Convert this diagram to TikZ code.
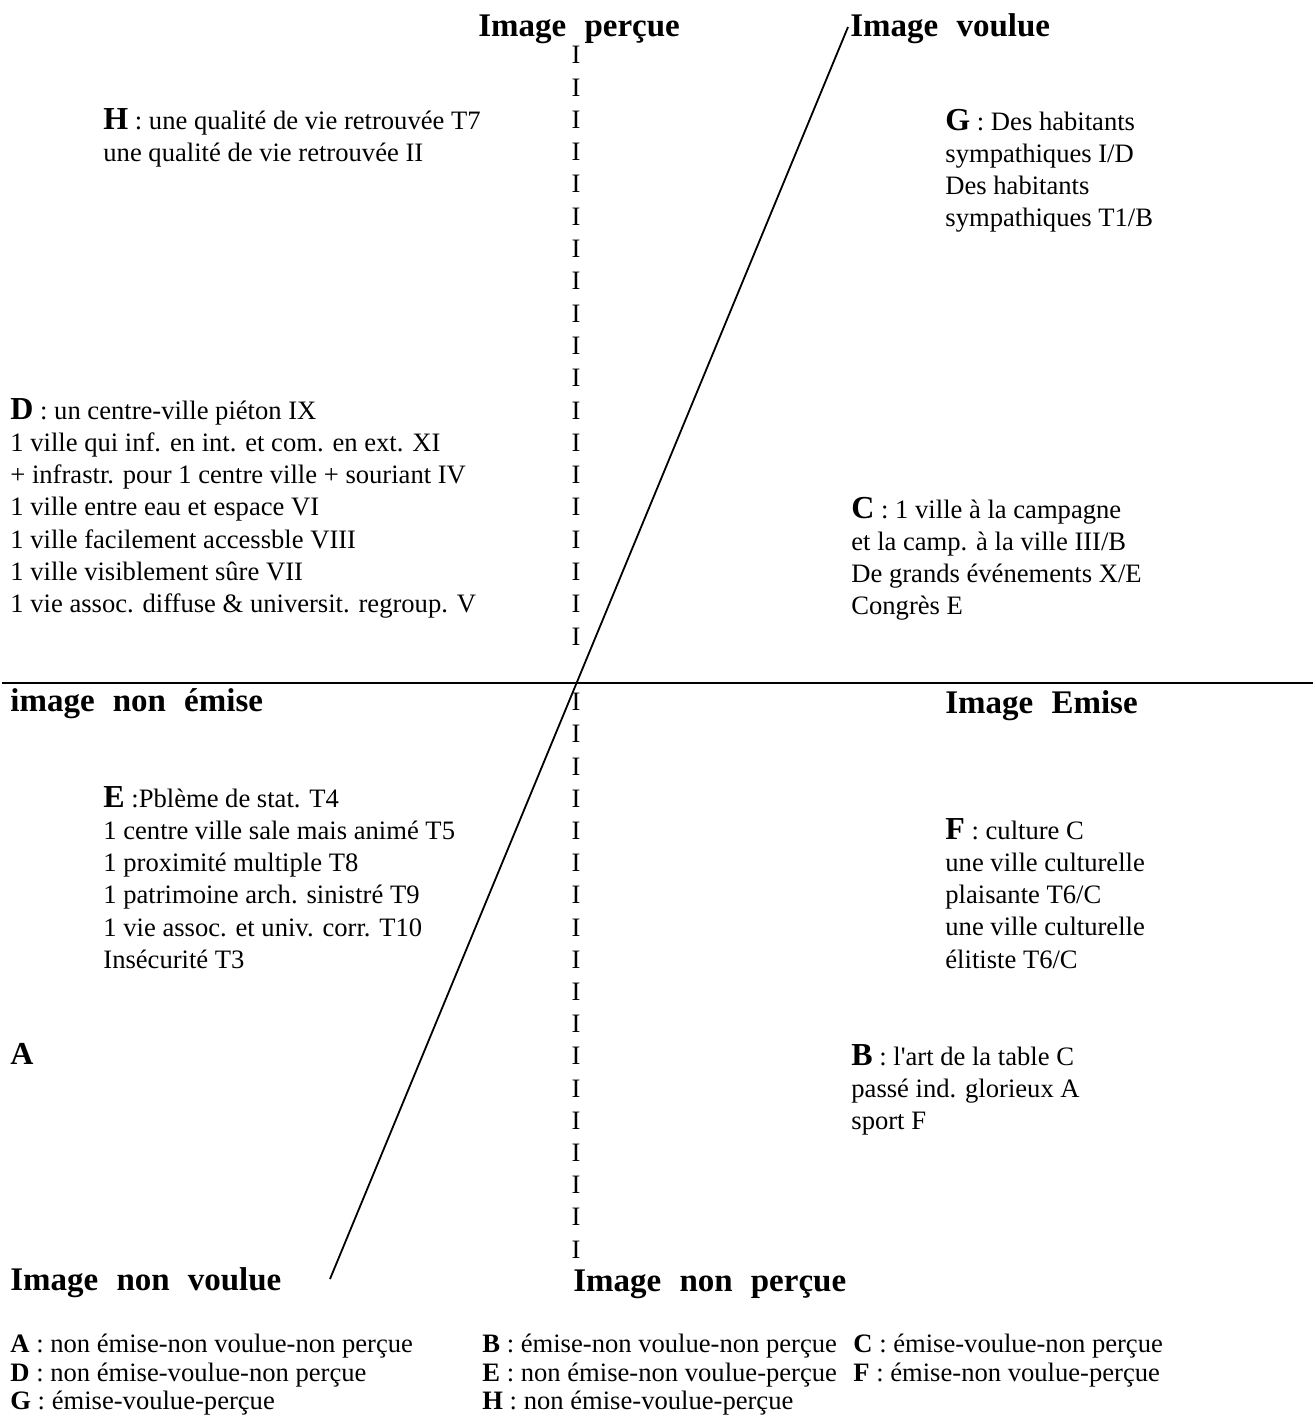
\documentclass[tikz,border=0pt]{standalone}
\usepackage{fontspec}
\setmainfont{Liberation Serif}
\usetikzlibrary{calc}
\tikzset{
  txt/.style = {anchor=base west, inner sep=0pt, font=\fontsize{13.3}{16}\selectfont},
  head/.style = {anchor=base west, inner sep=0pt, font=\fontsize{16.5}{20}\selectfont\bfseries},
  col/.style = {inner sep=0pt, font=\fontsize{13.3}{16}\selectfont},
  leg/.style = {anchor=base west, inner sep=0pt, font=\fontsize{13.3}{16}\selectfont},
}
\newcommand{\lettre}[1]{{\fontsize{16}{16}\selectfont\bfseries #1}}
\newcommand{\gap}{\hspace{0.55em}}
\begin{document}
\begin{tikzpicture}[x=0.5pt, y=-0.5pt]
            \useasboundingbox (0,0) rectangle (1313,1420);
            % axes
            \coordinate(hl)at(2,683);
            \coordinate(hr)at(1313,683);
            \path[draw, line width=0.9pt](hl)to(hr);
            \coordinate(dtop)at(848,27);
            \coordinate(dbot)at(330,1279);
            \path[draw, line width=0.9pt](dtop)to(dbot);
            % colonne de I
            \foreach \k in {0,...,18}
              \node[col](up\k)at(576,{55+32.3*\k}){I};
            \foreach \k in {0,...,17}
              \node[col](dn\k)at(576,{702+32.2*\k}){I};
            % titres des axes
            \node[head](percue)at(478,36){Image\gap perçue};
            \node[head](voulue)at(850,36){Image\gap voulue};
            \node[head](nonemise)at(10,711){image\gap non\gap émise};
            \node[head](emise)at(945,713){Image\gap Emise};
            \node[head](nonvoulue)at(10,1290){Image\gap non\gap voulue};
            \node[head](nonpercue)at(573,1291){Image\gap non\gap perçue};
            % H
            \foreach \t [count=\i from 0] in {{\lettre{H} : une qualité de vie retrouvée T7},
                {une qualité de vie retrouvée II}}
              \node[txt](h\i)at(103,{129+32.3*\i}){\t};
            % G
            \foreach \t [count=\i from 0] in {{\lettre{G} : Des habitants},
                {sympathiques I/D}, {Des habitants}, {sympathiques T1/B}}
              \node[txt](g\i)at(945,{130+32.3*\i}){\t};
            % D
            \foreach \t [count=\i from 0] in {{\lettre{D} : un centre-ville piéton IX},
                {1 ville qui inf. en int. et com. en ext. XI},
                {+ infrastr. pour 1 centre ville + souriant IV},
                {1 ville entre eau et espace VI},
                {1 ville facilement accessble VIII},
                {1 ville visiblement sûre VII},
                {1 vie assoc. diffuse \& universit. regroup. V}}
              \node[txt](d\i)at(10,{419+32.3*\i}){\t};
            % C
            \foreach \t [count=\i from 0] in {{\lettre{C} : 1 ville à la campagne},
                {et la camp. à la ville III/B}, {De grands événements X/E}, {Congrès E}}
              \node[txt](c\i)at(851,{518+32.3*\i}){\t};
            % E
            \foreach \t [count=\i from 0] in {{\lettre{E} :Pblème de stat. T4},
                {1 centre ville sale mais animé T5},
                {1 proximité multiple T8},
                {1 patrimoine arch. sinistré T9},
                {1 vie assoc. et univ. corr. T10},
                {Insécurité T3}}
              \node[txt](e\i)at(103,{807+32.3*\i}){\t};
            % F
            \foreach \t [count=\i from 0] in {{\lettre{F} : culture C},
                {une ville culturelle}, {plaisante T6/C}, {une ville culturelle}, {élitiste T6/C}}
              \node[txt](f\i)at(945,{839+32.3*\i}){\t};
            % B
            \foreach \t [count=\i from 0] in {{\lettre{B} : l\textquotesingle art de la table C},
                {passé ind. glorieux A}, {sport F}}
              \node[txt](b\i)at(851,{1065+32.3*\i}){\t};
            % A
            \node[txt](a0)at(10,1064){\lettre{A}};
            % legende
            \node[leg](lA)at(10,1352){\textbf{A} : non émise-non voulue-non perçue};
            \node[leg](lD)at(10,1381){\textbf{D} : non émise-voulue-non perçue};
            \node[leg](lG)at(10,1409){\textbf{G} : émise-voulue-perçue};
            \node[leg](lB)at(482,1352){\textbf{B} : émise-non voulue-non perçue};
            \node[leg](lE)at(482,1381){\textbf{E} : non émise-non voulue-perçue};
            \node[leg](lH)at(482,1409){\textbf{H} : non émise-voulue-perçue};
            \node[leg](lC)at(853,1352){\textbf{C} : émise-voulue-non perçue};
            \node[leg](lF)at(853,1381){\textbf{F} : émise-non voulue-perçue};
        \end{tikzpicture}
\end{document}
